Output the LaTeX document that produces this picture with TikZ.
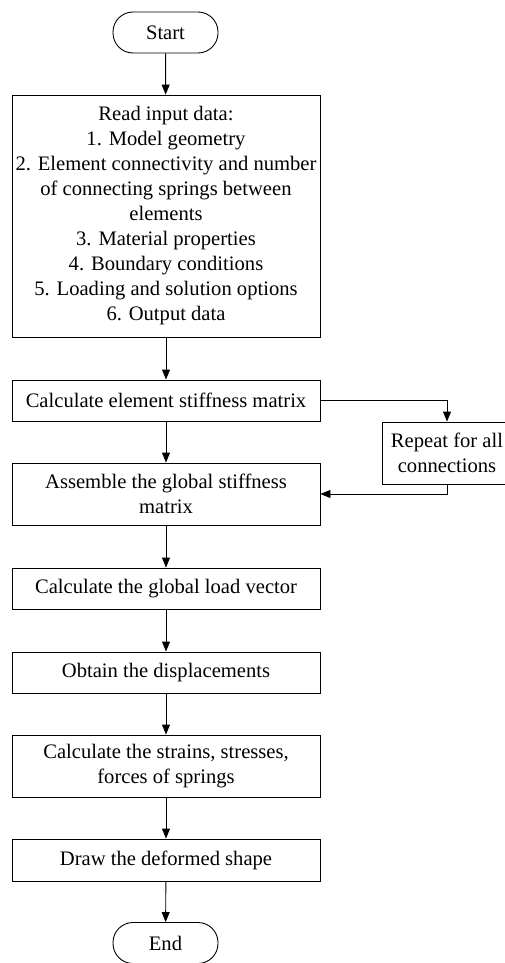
\documentclass[tikz,border=0pt]{standalone}
\usepackage{fontspec}
\setmainfont{Liberation Serif}
\usetikzlibrary{arrows.meta}
\begin{document}
\begin{tikzpicture}[x=1pt,y=-1pt,
  every node/.style={font=\fontsize{20.6}{25}\selectfont, inner sep=0pt},
  procbox/.style={draw, line width=0.9pt, minimum width=308pt, align=center},
  termbox/.style={draw, line width=0.9pt, rounded corners=20pt, minimum width=105pt, minimum height=41pt},
  arr/.style={line width=0.9pt, -{Triangle[length=10pt,width=8pt]}}
]
\useasboundingbox (0,0) rectangle (505,963);
\node[termbox] (start) at (165.5,32.5) {Start};
\node[procbox, minimum height=242pt] (b1) at (166,216) {Read input data:\\1. Model geometry\\2. Element connectivity and number\\of connecting springs between\\elements\\3. Material properties\\4. Boundary conditions\\5. Loading and solution options\\6. Output data};
\node[procbox, minimum height=41pt] (b2) at (166,400.5) {Calculate element stiffness matrix};
\node[procbox, minimum height=62pt] (b3) at (166,494) {Assemble the global stiffness\\matrix};
\node[procbox, minimum height=41pt] (b4) at (166,588.5) {Calculate the global load vector};
\node[procbox, minimum height=41pt] (b5) at (166,672.5) {Obtain the displacements};
\node[procbox, minimum height=62pt] (b6) at (166,766) {Calculate the strains, stresses,\\forces of springs};
\node[procbox, minimum height=42pt] (b7) at (166,860) {Draw the deformed shape};
\node[termbox] (end) at (165.5,943) {End};
\node[draw, line width=0.9pt, minimum width=130pt, minimum height=62pt, align=center] (rep) at (447,453) {Repeat for all\\connections};
\draw[arr] (start) -- (b1);
\draw[arr] (b1) -- (b2);
\draw[arr] (b2) -- (b3);
\draw[arr] (b3) -- (b4);
\draw[arr] (b4) -- (b5);
\draw[arr] (b5) -- (b6);
\draw[arr] (b6) -- (b7);
\draw[arr] (b7) -- (end);
\draw[arr] (b2.east) -| (rep.north);
\draw[arr] (rep.south) |- (b3.east);
\end{tikzpicture}
\end{document}
